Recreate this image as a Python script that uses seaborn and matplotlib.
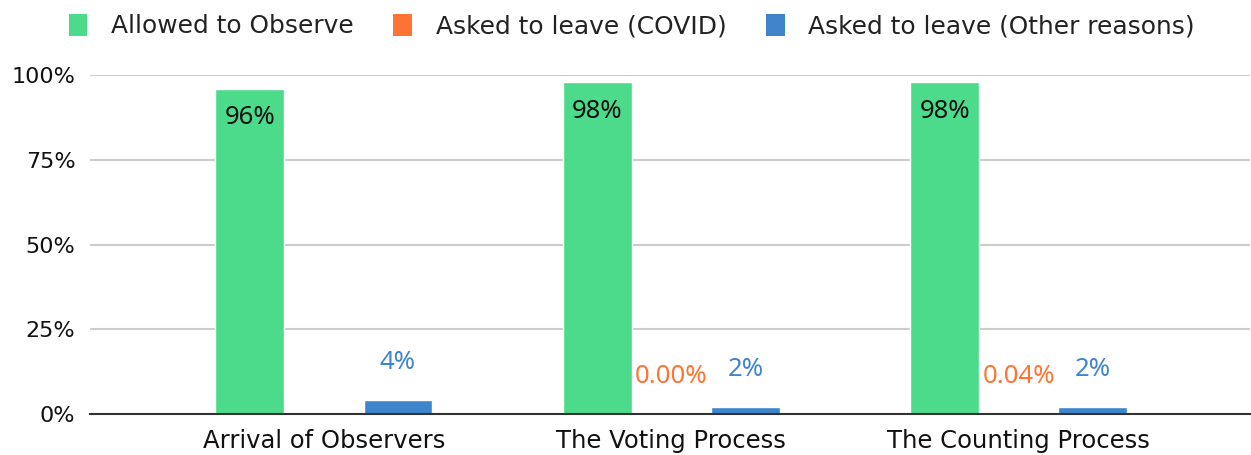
import matplotlib
matplotlib.use("Agg")
import matplotlib.pyplot as plt
import seaborn as sns
import pandas as pd
import numpy as np
from matplotlib.patches import Patch

categories = ["Arrival of Observers", "The Voting Process", "The Counting Process"]
series = ["Allowed to Observe", "Asked to leave (COVID)", "Asked to leave (Other reasons)"]
allowed = [96, 98, 98]
covid = [np.nan, 0.00, 0.04]
other = [4, 2, 2]
allowed_labels = ["96%", "98%", "98%"]
covid_labels = ["", "0.00%", "0.04%"]
other_labels = ["4%", "2%", "2%"]
yticks = [0, 25, 50, 75, 100]
ytick_labels = ["0%", "25%", "50%", "75%", "100%"]

colors = ["#4cdb8a", "#ff7433", "#3e85cb"]

rows = []
for s, vals in zip(series, [allowed, covid, other]):
    for c, v in zip(categories, vals):
        rows.append({"category": c, "series": s, "value": v})
df = pd.DataFrame(rows)

sns.set_theme(style="white")
plt.rcParams["font.family"] = ["DejaVu Sans"]

fig = plt.figure(figsize=(12.51, 4.55), dpi=100)
ax = fig.add_axes([0.072, 0.090, 0.927, 0.745])

sns.barplot(data=df, x="category", y="value", hue="series", order=categories,
            hue_order=series, palette=colors, width=0.64, gap=0.07,
            saturation=1, ax=ax, legend=False, errorbar=None)

ax.set_ylim(0, 100)
ax.set_xlim(-0.673, 2.665)
ax.set_yticks(yticks)
ax.set_yticklabels(ytick_labels)
ax.set_xlabel("")
ax.set_ylabel("")
ax.grid(axis="y", color="#cccccc", linewidth=1.5)
ax.set_axisbelow(True)
for sp in ["top", "right", "left"]:
    ax.spines[sp].set_visible(False)
ax.spines["bottom"].set_color("#333333")
ax.spines["bottom"].set_linewidth(1.5)
ax.tick_params(axis="y", length=0, pad=10.5, labelsize=16, colors="#111111")
ax.tick_params(axis="x", length=0, pad=11, labelsize=17.5, colors="#111111")

lab_font = dict(family=["Noto Sans", "DejaVu Sans"], fontsize=18.5)
conts = ax.containers
ax.bar_label(conts[0], labels=allowed_labels, padding=-30, color="#111111", **lab_font)
n_cov = len(conts[1])
cov_lab = covid_labels if n_cov == len(covid_labels) else [l for l, v in zip(covid_labels, covid) if not np.isnan(v)]
ax.bar_label(conts[1], labels=cov_lab, padding=18, color=colors[1], **lab_font)
ax.bar_label(conts[2], labels=other_labels, padding=18, color=colors[2], **lab_font)

handles = [Patch(facecolor=c, edgecolor="none") for c in colors]
fig.legend(handles, series, loc="center", bbox_to_anchor=(0.505, 0.943), ncol=3,
           frameon=False, fontsize=17.9, handlelength=0.75, handleheight=1.0,
           handletextpad=0.95, columnspacing=1.6, labelcolor="#222222")

fig.savefig("out.png", dpi=100)
